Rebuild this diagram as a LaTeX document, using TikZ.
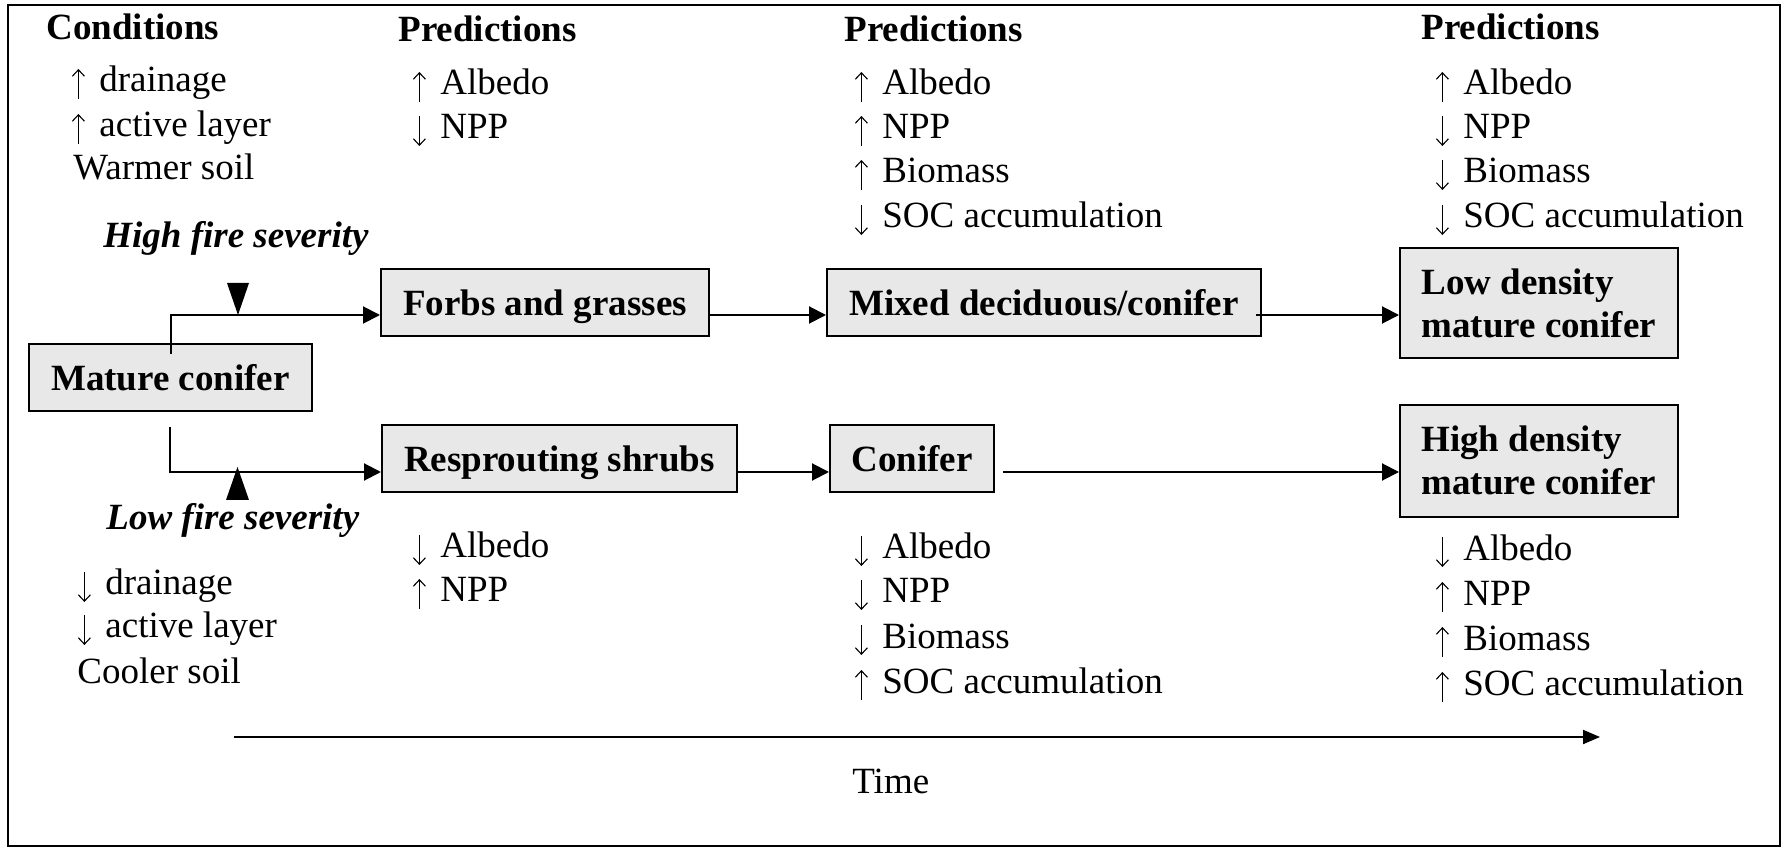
\documentclass[tikz,border=0pt]{standalone}
\usepackage{fontspec}
\setmainfont{Liberation Serif}
\usetikzlibrary{arrows.meta}
\newcommand\myfs{\fontsize{18.5pt}{22.2pt}\selectfont}
\newcommand\ua{\makebox[21pt][c]{\tikz[baseline=0pt]\draw[line width=0.55pt,-{Straight Barb[length=3.2pt,width=6pt]}] (0pt,-3.5pt) -- (0pt,11.5pt);}}
\newcommand\da{\makebox[21pt][c]{\tikz[baseline=0pt]\draw[line width=0.55pt,-{Straight Barb[length=3.2pt,width=6pt]}] (0pt,11.5pt) -- (0pt,-3.5pt);}}
\begin{document}
\begin{tikzpicture}[x=0.5pt,y=-0.5pt,
  txt/.style={inner sep=0pt, anchor=base west, font=\myfs},
  head/.style={txt, font=\myfs\bfseries},
  sev/.style={txt, font=\myfs\bfseries\itshape},
  stagebox/.style={draw, line width=1pt, fill=black!9, inner sep=0pt, font=\myfs\bfseries, text height=13pt, text depth=0pt, minimum height=33.5pt},
  arr/.style={line width=1pt, -{Triangle[length=8.5pt,width=8.5pt]}},
  tarr/.style={line width=1pt, -{Triangle[length=8.5pt,width=7pt]}}]
\useasboundingbox (0,0) rectangle (1788,849);
\draw[line width=1pt] (8,5) rectangle (1780,846);

% headings
\node[head] (hcond) at (46,40) {Conditions};
\node[head] (hp2) at (398,42) {Predictions};
\node[head] (hp3) at (844,42) {Predictions};
\node[head] (hp4) at (1421,40) {Predictions};

% conditions upper
\node[txt] (cu1) at (57,92) {\ua drainage};
\node[txt] (cu2) at (57,137) {\ua active layer};
\node[txt] (cu3) at (73,180) {Warmer soil};

% predictions col 2 upper
\node[txt] (p2u1) at (398,95) {\ua Albedo};
\node[txt] (p2u2) at (398,139) {\da NPP};

% predictions col 3 upper
\node[txt] (p3u1) at (840,95) {\ua Albedo};
\node[txt] (p3u2) at (840,139) {\ua NPP};
\node[txt] (p3u3) at (840,183) {\ua Biomass};
\node[txt] (p3u4) at (840,228) {\da SOC accumulation};

% predictions col 4 upper
\node[txt] (p4u1) at (1421,95) {\ua Albedo};
\node[txt] (p4u2) at (1421,139) {\da NPP};
\node[txt] (p4u3) at (1421,183) {\da Biomass};
\node[txt] (p4u4) at (1421,228) {\da SOC accumulation};

% severity labels
\node[sev] (hfs) at (103,248) {High fire severity};
\node[sev] (lfs) at (106,530) {Low fire severity};

% conditions lower
\node[txt] (cl1) at (63,595) {\da drainage};
\node[txt] (cl2) at (63,638) {\da active layer};
\node[txt] (cl3) at (77,683) {Cooler soil};

% predictions col 2 lower
\node[txt] (p2l1) at (398,558) {\da Albedo};
\node[txt] (p2l2) at (398,602) {\ua NPP};

% predictions col 3 lower
\node[txt] (p3l1) at (840,559) {\da Albedo};
\node[txt] (p3l2) at (840,603) {\da NPP};
\node[txt] (p3l3) at (840,648) {\da Biomass};
\node[txt] (p3l4) at (840,693) {\ua SOC accumulation};

% predictions col 4 lower
\node[txt] (p4l1) at (1421,560) {\da Albedo};
\node[txt] (p4l2) at (1421,605) {\ua NPP};
\node[txt] (p4l3) at (1421,650) {\ua Biomass};
\node[txt] (p4l4) at (1421,695) {\ua SOC accumulation};

% stage boxes
\node[stagebox, minimum width=141.5pt] (mc) at (170.5,377.5) {Mature conifer};
\node[stagebox, minimum width=164pt] (fg) at (545,302.5) {Forbs and grasses};
\node[stagebox, minimum width=217pt] (md) at (1044,302.5) {Mixed deciduous/conifer};
\node[stagebox, minimum width=139pt, minimum height=55pt] (ld) at (1539,303) {};
\node[head] (ldt1) at (1421,295) {Low density};
\node[head] (ldt2) at (1421,338) {mature conifer};
\node[stagebox, minimum width=177.5pt] (rs) at (559.5,458.5) {Resprouting shrubs};
\node[stagebox, minimum width=82pt] (cf) at (912,458.5) {Conifer};
\node[stagebox, minimum width=139pt, minimum height=56pt] (hdm) at (1539,461) {};
\node[head] (hdt1) at (1421,452) {High density};
\node[head] (hdt2) at (1421,495) {mature conifer};

% connectors
\draw[arr] ([xshift=71.5pt,yshift=-5.5pt]mc.north west) |- ([yshift=-6.25pt]fg.west);
\draw[arr] ([yshift=-6.25pt]fg.east) -- ([yshift=-6.25pt]md.west);
\draw[arr] ([xshift=-3pt,yshift=-6.25pt]md.east) -- ([yshift=-6pt]ld.west);
\draw[arr] ([xshift=71pt,yshift=-7.5pt]mc.south west) |- ([yshift=-6.75pt]rs.west);
\draw[arr] ([xshift=-1pt,yshift=-6.75pt]rs.east) -- ([yshift=-6.75pt]cf.west);
\draw[arr] ([xshift=4pt,yshift=-6.75pt]cf.east) -- ([yshift=-5.5pt]hdm.west);

% severity markers
\fill (227,283) -- (249,283) -- (238,315) -- cycle;
\fill (226,500) -- (249,500) -- (237.5,467) -- cycle;

% time axis
\coordinate (t0) at (234,737);
\coordinate (t1) at (1600,737);
\draw[tarr] (t0) -- (t1);
\node[txt] (time) at (852,793) {Time};
\end{tikzpicture}
\end{document}
